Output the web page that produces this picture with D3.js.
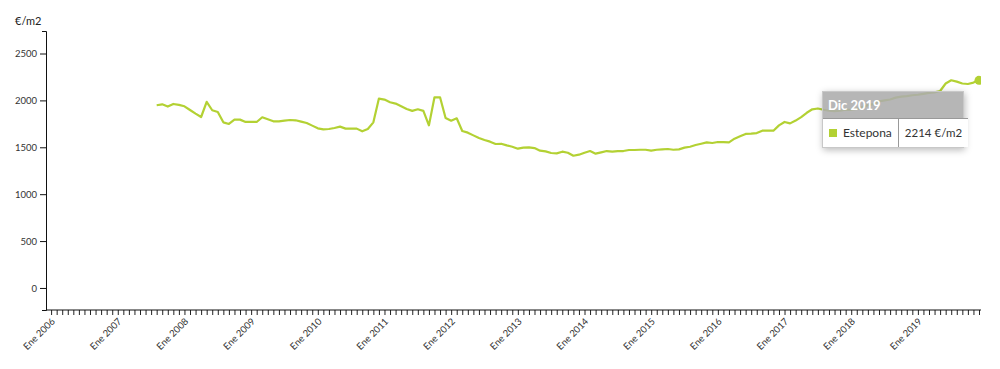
<!DOCTYPE html>
<html>
<head>
<meta charset="utf-8">
<script src="https://cdn.jsdelivr.net/npm/d3@7"></script>
<style>
  body{margin:0;background:#fff;font-family:Lato,"Open Sans",sans-serif;}
  #chart{position:relative;width:1000px;height:369px;}
  .tip{position:absolute;width:140px;border:1px solid #c8c8c8;box-shadow:1px 2px 7px rgba(0,0,0,.28);background:transparent;}
  .tip .hd{background:rgba(172,172,172,.88);color:#fff;font-weight:bold;font-size:13px;height:26px;line-height:27px;padding-left:5px;}
  .tip table{border-collapse:collapse;background:#fff;width:100%;}
  .tip td{border-top:1px solid #999;height:28px;font-size:12px;color:#333;padding:0 6px;white-space:nowrap;}
  .tip td.val{border-left:1px solid #999;font-size:11.5px;}
  .tip .sw{display:inline-block;width:8px;height:8px;margin-right:6px;}
</style>
</head>
<body>
<div id="chart"></div>
<script>
// Precio medio vivienda (€/m2), mensual. D3 global.
const meses = ["Ene","Feb","Mar","Abr","May","Jun","Jul","Ago","Sep","Oct","Nov","Dic"];
const anioEje = 2006, anioFin = 2019;        // eje x: Ene 2006 .. Dic 2019
const inicio = {anio:2007, mes:7};            // primer dato: Ago 2007
const serie = "Estepona", unidad = "€/m2", color = "#b3d133";
const yTicks = [0,500,1000,1500,2000,2500];
const yDominio = [-235,2740];
const precio = [
  1948,1958,1934,1962,1952,                                        // 2007
  1937,1898,1859,1823,1984,1895,1877,1766,1749,1795,1795,1770,     // 2008
  1770,1770,1820,1799,1777,1777,1784,1791,1788,1773,1759,1731,     // 2009
  1702,1691,1695,1706,1720,1699,1699,1699,1670,1695,1766,2019,     // 2010
  2009,1980,1966,1937,1909,1888,1905,1888,1734,2033,2033,1813,     // 2011
  1784,1809,1674,1656,1627,1599,1578,1560,1535,1538,1520,1506,     // 2012
  1485,1496,1499,1492,1464,1456,1439,1435,1453,1442,1410,1421,     // 2013
  1442,1460,1432,1446,1460,1453,1460,1460,1471,1471,1474,1474,     // 2014
  1464,1474,1478,1482,1474,1478,1496,1506,1524,1538,1553,1546,     // 2015
  1556,1556,1553,1592,1617,1642,1645,1652,1677,1677,1677,1734,     // 2016
  1770,1755,1785,1822,1868,1905,1914,1900,1890,1885,1890,1900,     // 2017
  1900,1910,1930,1950,1960,1990,2000,2010,2030,2040,2045,2055,     // 2018
  2060,2070,2080,2085,2100,2180,2215,2200,2180,2175,2190,2214      // 2019
];

const W=1000, H=369, L=46, R=981, T=31, B=310;
const nMeses = (anioFin-anioEje+1)*12;
const off = (inicio.anio-anioEje)*12 + inicio.mes;
const datos = precio.map((v,k)=>({i:off+k, v}));

const x = d3.scaleLinear().domain([0,nMeses-1]).range([L+5.1,R-2]);
const y = d3.scaleLinear().domain(yDominio).range([B,T]);

const root = d3.select("#chart");
const svg = root.append("svg").attr("width",W).attr("height",H).style("display","block");

svg.append("defs").append("clipPath").attr("id","plot")
  .append("rect").attr("x",L).attr("y",T).attr("width",R-L).attr("height",B-T);

// eje y
const gy = svg.append("g").attr("transform",`translate(${L},0)`)
  .call(d3.axisLeft(y).tickValues(yTicks).tickFormat(d3.format("d")).tickSize(6).tickSizeOuter(4).tickPadding(3));
gy.selectAll("text").attr("font-size",9.5).attr("font-family","Lato").attr("fill","#333");
gy.selectAll("line,path").attr("stroke","#111");

svg.append("text").attr("x",15).attr("y",25).attr("font-size",11).attr("font-family","Lato")
  .attr("fill","#222").text(unidad);

// eje x (un tick por mes, etiqueta en enero)
const gx = svg.append("g").attr("transform",`translate(0,${B})`)
  .call(d3.axisBottom(x).tickValues(d3.range(nMeses)).tickSize(5)
    .tickFormat(i=> i%12===0 ? `${meses[0]} ${anioEje+i/12}` : ""));
gx.select(".domain").remove();
gx.selectAll("line").attr("stroke","#222");
gx.selectAll("text").attr("x",0).attr("y",0).attr("dy",0).attr("text-anchor","end")
  .attr("transform","translate(4,12) rotate(-45)")
  .attr("font-size",9.5).attr("font-family","Lato").attr("fill","#333");
gx.append("line").attr("x1",L).attr("x2",R).attr("stroke","#111");

// línea
const plot = svg.append("g").attr("clip-path","url(#plot)");
plot.append("path").datum(datos)
  .attr("fill","none").attr("stroke",color).attr("stroke-width",2.2).attr("stroke-linejoin","round")
  .attr("d", d3.line().x(d=>x(d.i)).y(d=>y(d.v)));

const ult = datos[datos.length-1];
plot.append("circle").attr("cx",x(ult.i)).attr("cy",y(ult.v)).attr("r",4.5).attr("fill",color);

// tooltip del último punto
const tip = root.append("div").attr("class","tip")
  .style("left",(x(ult.i)-157)+"px").style("top",(y(ult.v)+10.5)+"px");
tip.append("div").attr("class","hd").text(`${meses[ult.i%12]} ${anioEje+Math.floor(ult.i/12)}`);
const tr = tip.append("table").append("tr");
const td1 = tr.append("td").style("width","62px");
td1.append("span").attr("class","sw").style("background",color);
td1.append("span").text(serie);
tr.append("td").attr("class","val").text(`${ult.v} ${unidad}`);
</script>
</body>
</html>
